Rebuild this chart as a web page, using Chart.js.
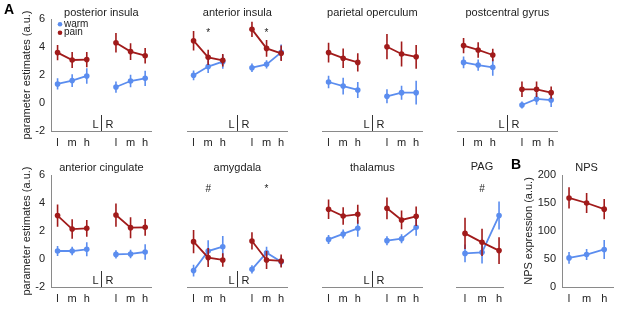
<!DOCTYPE html>
<html>
<head>
<meta charset="utf-8">
<script src="https://cdn.jsdelivr.net/npm/chart.js"></script>
<style>
  html, body { margin: 0; padding: 0; background: #fff; }
  #wrap { position: relative; width: 617px; height: 318px; }
  #wrap canvas { position: absolute; left: 0; top: 0; }
</style>
</head>
<body>
<div id="wrap"></div>
<script>
// categories
const regions = ['posterior insula', 'anterior insula', 'parietal operculum', 'postcentral gyrus',
                 'anterior cingulate', 'amygdala', 'thalamus'];
const levels = ['l', 'm', 'h'];
const hemis = ['L', 'R'];
const series = ['warm', 'pain'];

// parameter estimates, each row: L l,m,h then R l,m,h
const warmMean = [
  [1.36, 1.60, 1.93, 1.14, 1.57, 1.76],
  [1.98, 2.60, 2.95, 2.52, 2.76, 3.62],
  [1.50, 1.21, 0.93, 0.48, 0.74, 0.74],
  [2.90, 2.71, 2.55, -0.14, 0.29, 0.21],
  [0.57, 0.57, 0.69, 0.33, 0.36, 0.50],
  [-0.83, 0.57, 0.88, -0.74, 0.45, -0.19],
  [1.40, 1.79, 2.19, 1.31, 1.45, 2.26]
];
const warmErr = [
  [0.40, 0.45, 0.55, 0.40, 0.45, 0.55],
  [0.35, 0.45, 0.50, 0.30, 0.30, 0.55],
  [0.45, 0.60, 0.57, 0.50, 0.50, 0.85],
  [0.42, 0.40, 0.60, 0.25, 0.42, 0.50],
  [0.36, 0.30, 0.50, 0.30, 0.30, 0.55],
  [0.42, 0.77, 0.76, 0.30, 0.42, 0.36],
  [0.32, 0.32, 0.60, 0.32, 0.32, 0.60]
];
const painMean = [
  [3.60, 3.07, 3.10, 4.30, 3.67, 3.38],
  [4.45, 3.26, 3.05, 5.26, 3.90, 3.55],
  [3.60, 3.20, 2.90, 4.02, 3.50, 3.30],
  [4.10, 3.79, 3.43, 0.98, 0.98, 0.74],
  [3.10, 2.14, 2.19, 3.14, 2.24, 2.26],
  [1.24, 0.10, -0.07, 1.29, -0.07, -0.14],
  [3.55, 3.07, 3.19, 3.62, 2.79, 3.05]
];
const painErr = [
  [0.55, 0.57, 0.55, 0.70, 0.60, 0.55],
  [0.70, 0.55, 0.45, 0.55, 0.60, 0.55],
  [0.70, 0.70, 0.65, 0.90, 0.90, 0.85],
  [0.55, 0.55, 0.45, 0.55, 0.55, 0.43],
  [0.80, 0.70, 0.60, 0.83, 0.75, 0.60],
  [0.83, 0.68, 0.48, 0.62, 0.65, 0.46],
  [0.70, 0.63, 0.68, 0.78, 0.67, 0.70]
];
const regionMarks = [
  ['', '', '', '', '', ''],
  ['', '*', '', '', '*', ''],
  ['', '', '', '', '', ''],
  ['', '', '', '', '', ''],
  ['', '', '', '', '', ''],
  ['', '#', '', '', '*', ''],
  ['', '', '', '', '', '']
];

// PAG (single region)
const pagWarm = [0.40, 0.48, 3.10];
const pagWarmErr = [0.64, 0.80, 1.00];
const pagPain = [1.83, 1.19, 0.60];
const pagPainErr = [1.12, 0.97, 0.95];
const pagMarks = ['', '#', ''];

// NPS expression
const npsWarm = [52, 58, 67];
const npsWarmErr = [10.5, 10, 17];
const npsPain = [159, 150, 139];
const npsPainErr = [19, 18, 18];

// tick labels
const paramTicks = [-2, 0, 2, 4, 6];
const npsTicks = [0, 50, 100, 150, 200];

const blue = '#5b8def';
const red = '#a11b1b';
const axisGrey = '#8a8a8a';
const textCol = '#222';
const FONT = "'Liberation Sans', Arial, sans-serif";

Chart.defaults.font.family = FONT;
Chart.defaults.font.size = 11;
Chart.defaults.color = textCol;

const errorBars = {
  id: 'errorBars',
  beforeDatasetDraw(chart, args) {
    const ds = chart.data.datasets[args.index];
    const y = chart.scales.y;
    const ctx = chart.ctx;
    ctx.save();
    ctx.strokeStyle = ds.borderColor;
    ctx.lineWidth = 1.6;
    ctx.beginPath();
    args.meta.data.forEach((pt, i) => {
      const v = ds.data[i].y;
      const e = ds.errors[i];
      if (v == null) return;
      ctx.moveTo(pt.x, y.getPixelForValue(v - e));
      ctx.lineTo(pt.x, y.getPixelForValue(v + e));
    });
    ctx.stroke();
    ctx.restore();
  }
};

const panelText = {
  id: 'panelText',
  afterDraw(chart, args, o) {
    const ctx = chart.ctx;
    const x = chart.scales.x, y = chart.scales.y;
    ctx.save();
    ctx.fillStyle = textCol;
    ctx.textBaseline = 'middle';
    ctx.textAlign = 'center';
    ctx.font = '11px ' + FONT;
    ctx.fillText(o.title, x.getPixelForValue(o.mid), o.titleY);

    if (o.split) {
      const px = Math.round(x.getPixelForValue(4)) + 0.5;
      const b = chart.chartArea.bottom;
      ctx.strokeStyle = '#333';
      ctx.lineWidth = 1;
      ctx.beginPath();
      ctx.moveTo(px, b);
      ctx.lineTo(px, b - 16);
      ctx.stroke();
      ctx.textAlign = 'right';
      ctx.fillText(hemis[0], px - 3, b - 6.5);
      ctx.textAlign = 'left';
      ctx.fillText(hemis[1], px + 4, b - 6.5);
    }

    if (o.marks) {
      ctx.font = '10px ' + FONT;
      ctx.textAlign = 'center';
      o.marks.forEach((m, i) => {
        if (m) ctx.fillText(m, x.getPixelForValue(o.xs[i]), y.getPixelForValue(5.0));
      });
    }

    if (o.legend) {
      ctx.font = '10px ' + FONT;
      ctx.textAlign = 'left';
      [blue, red].forEach((c, i) => {
        const ly = 24.3 + i * 8.4;
        ctx.fillStyle = c;
        ctx.beginPath();
        ctx.arc(60, ly, 2.3, 0, Math.PI * 2);
        ctx.fill();
        ctx.fillStyle = textCol;
        ctx.fillText(series[i], 64, ly);
      });
    }

    if (o.letter) {
      ctx.font = 'bold 14px ' + FONT;
      ctx.textAlign = 'center';
      ctx.fillStyle = '#000';
      ctx.fillText(o.letter.t, o.letter.x, o.letter.y);
    }
    ctx.restore();
  }
};

function withGap(xs, vals) {
  const out = xs.map((x, i) => ({ x: x, y: vals[i] }));
  if (xs.length === 6) out.splice(3, 0, { x: 4, y: null });
  return out;
}
function errGap(xs, errs) {
  const out = errs.slice();
  if (xs.length === 6) out.splice(3, 0, null);
  return out;
}

function makePanel(p) {
  const canvas = document.createElement('canvas');
  canvas.width = 617; canvas.height = 318;
  canvas.style.width = '617px'; canvas.style.height = '318px';
  document.getElementById('wrap').appendChild(canvas);

  const W = p.yAxis ? p.yAxis.width : 0;
  const line = (label, color, vals, errs) => ({
    label: label,
    data: withGap(p.xs, vals),
    errors: errGap(p.xs, errs),
    borderColor: color,
    backgroundColor: color,
    pointBackgroundColor: color,
    pointBorderWidth: 0,
    pointRadius: 2.8,
    borderWidth: 1.8,
    tension: 0,
    spanGaps: false
  });

  const yScale = p.yAxis ? {
    display: true,
    min: p.yAxis.ticks[0],
    max: p.yAxis.ticks[p.yAxis.ticks.length - 1],
    afterBuildTicks: s => { s.ticks = p.yAxis.ticks.map(v => ({ value: v })); },
    ticks: { padding: 6, color: textCol, font: { size: 11 } },
    grid: { display: false, drawTicks: false },
    border: { color: axisGrey, width: 1 },
    title: { display: true, text: p.yAxis.title, padding: 0, color: textCol, font: { size: 11 } },
    afterFit: s => { s.width = W; }
  } : { display: false, min: p.ymin, max: p.ymax };

  new Chart(canvas, {
    type: 'line',
    plugins: [errorBars, panelText],
    data: {
      datasets: [
        line(series[1], red, p.pain, p.painErr),
        line(series[0], blue, p.warm, p.warmErr)
      ]
    },
    options: {
      responsive: false,
      animation: false,
      devicePixelRatio: 1,
      layout: {
        padding: { left: p.left - W, right: 617 - p.right, top: p.top, bottom: 318 - p.bottom - 20 }
      },
      plugins: {
        legend: { display: false },
        tooltip: { enabled: false },
        panelText: {
          title: p.title, titleY: p.titleY, mid: p.mid, split: p.xs.length === 6,
          marks: p.marks, xs: p.xs, legend: p.legend, letter: p.letter
        }
      },
      scales: {
        x: {
          type: 'linear',
          min: p.xmin,
          max: p.xmax,
          afterBuildTicks: s => { s.ticks = p.xs.map(v => ({ value: v })); },
          ticks: {
            callback: (v, i) => levels[i % 3],
            padding: 5, maxRotation: 0, autoSkip: false, color: textCol, font: { size: 11 }
          },
          grid: { display: false, drawTicks: false },
          border: { color: axisGrey, width: 1 },
          afterFit: s => { s.height = 20; }
        },
        y: yScale
      }
    }
  });
}

const sixX = [1, 2, 3, 5, 6, 7];
const lefts = [51, 187, 322, 457];
const paramAxis = { ticks: paramTicks, title: 'parameter estimates (a.u.)', width: 31 };

regions.forEach((name, r) => {
  const row = r < 4 ? 0 : 1;
  const col = r < 4 ? r : r - 4;
  makePanel({
    title: name,
    titleY: row === 0 ? 13.3 : 168,
    left: lefts[col], right: lefts[col] + 100,
    top: row === 0 ? 19 : 175, bottom: row === 0 ? 131 : 287,
    xmin: 0.55, xmax: 7.4, mid: 4, xs: sixX,
    ymin: -2, ymax: 6,
    yAxis: col === 0 ? paramAxis : null,
    warm: warmMean[r], warmErr: warmErr[r],
    pain: painMean[r], painErr: painErr[r],
    marks: regionMarks[r],
    legend: r === 0,
    letter: r === 0 ? { t: 'A', x: 9, y: 10.5 } : null
  });
});

makePanel({
  title: 'PAG', titleY: 167,
  left: 456, right: 503.3, top: 175, bottom: 287,
  xmin: 0.47, xmax: 3.25, mid: 2, xs: [1, 2, 3],
  ymin: -2, ymax: 6, yAxis: null,
  warm: pagWarm, warmErr: pagWarmErr, pain: pagPain, painErr: pagPainErr,
  marks: pagMarks
});

makePanel({
  title: 'NPS', titleY: 168,
  left: 562, right: 613, top: 175, bottom: 287,
  xmin: 0.6, xmax: 3.5, mid: 2, xs: [1, 2, 3],
  yAxis: { ticks: npsTicks, title: 'NPS expression (a.u.)', width: 40 },
  warm: npsWarm, warmErr: npsWarmErr, pain: npsPain, painErr: npsPainErr,
  marks: null,
  letter: { t: 'B', x: 516, y: 165 }
});
</script>
</body>
</html>
